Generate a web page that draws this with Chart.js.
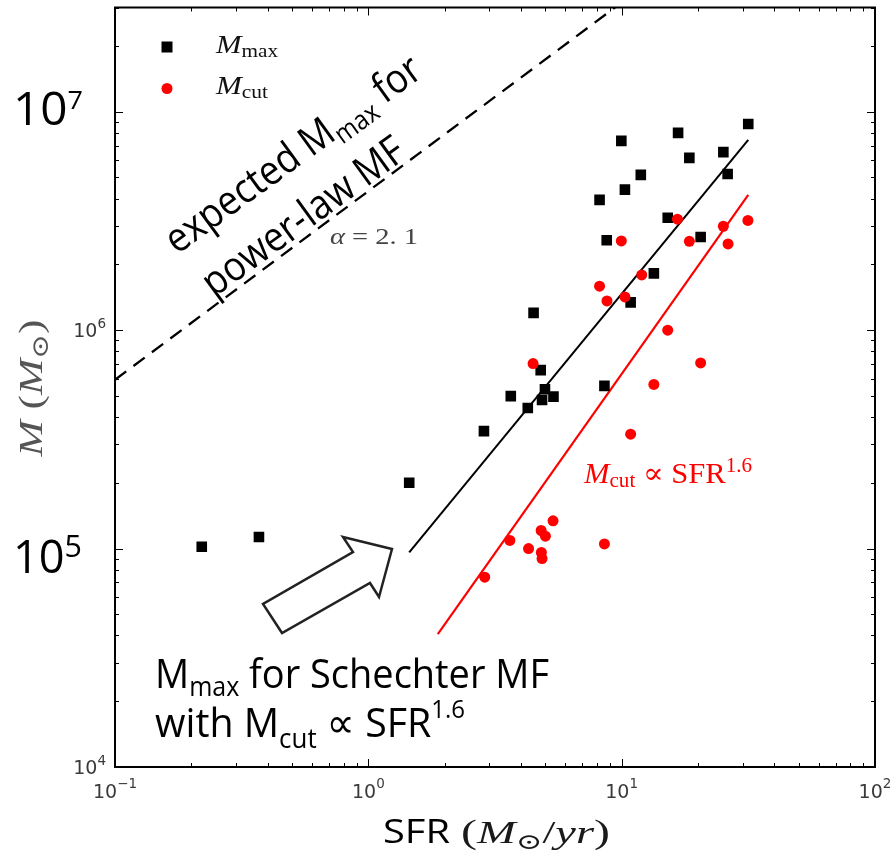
<!DOCTYPE html>
<html><head><meta charset="utf-8">
<script src="https://cdn.jsdelivr.net/npm/chart.js@4/dist/chart.umd.min.js"></script>
<style>html,body{margin:0;padding:0;background:#fff;}#wrap{width:896px;height:853px;}</style>
</head><body><div id="wrap"><canvas id="c" width="896" height="853"></canvas></div>
<script>
// ---- data ----
const maxSFR  = [0.22,0.37,1.45,2.86,3.65,4.26,4.49,4.79,4.98,4.85,5.38,8.55,10.85,31.6,16.7,9.97,18.5,25.2,26.2,11.9,10.3,8.18,15.2,8.73,20.5,13.4];
const maxMass = [1.02e5,1.13e5,2.0e5,3.45e5,4.99e5,4.4e5,1.2e6,6.56e5,5.36e5,4.79e5,4.96e5,5.56e5,1.34e6,8.79e6,8.0e6,7.35e6,6.15e6,6.53e6,5.19e6,5.14e6,4.40e6,3.95e6,3.27e6,2.58e6,2.67e6,1.82e6];
const cutSFR  = [2.88,3.62,4.29,4.47,4.81,4.82,4.85,5.0,5.36,8.18,8.55,8.75,9.97,10.3,10.85,12.0,13.4,15.2,16.6,18.5,20.5,25.2,26.3,31.5];
const cutMass = [7.4e4,1.09e5,1.0e5,7.03e5,1.21e5,9.6e4,9.0e4,1.14e5,1.34e5,1.59e6,1.05e5,1.36e6,2.56e6,1.42e6,3.34e5,1.79e6,5.64e5,1.0e6,3.22e6,2.55e6,7.08e5,2.99e6,2.48e6,3.18e6];
const schechterSFR  = [1.45, 31.6];
const schechterMass = [9.6e4, 7.43e6];
const cutFitSFR  = [1.88, 31.6];
const cutFitMass = [4.06e4, 4.16e6];
const powerLawSFR  = [0.1, 10];
const powerLawMass = [5.93e5, 3.16e7];
const xTickExps = [-1, 0, 1, 2];
const yTickExps = [4, 5, 6, 7];

const pts = (xs, ys) => xs.map((x, i) => ({x, y: ys[i]}));

const SANS = '"Open Sans", "DejaVu Sans", sans-serif';
const SERIF = '"Liberation Serif", "DejaVu Serif", serif';
const TICKF = '"DejaVu Sans", sans-serif';

function runsWidth(ctx, runs){ let w=0; for(const r of runs){ ctx.font=r.f; w+=ctx.measureText(r.t).width; } return w; }
function drawRuns(ctx, runs, x, y, o={}){
  ctx.save();
  ctx.translate(x,y);
  if (o.rot) ctx.rotate(o.rot);
  const w = runsWidth(ctx, runs);
  const sx = o.width ? o.width / w : 1;
  const sy = o.sy || 1;
  ctx.scale(sx, sy);
  let cx = o.align==='center' ? -w/2 : (o.align==='right' ? -w : 0);
  ctx.textBaseline='alphabetic'; ctx.textAlign='left';
  for (const r of runs){
    ctx.font=r.f; ctx.fillStyle=r.c||o.color||'#000';
    ctx.fillText(r.t, cx, r.dy||0);
    cx += ctx.measureText(r.t).width;
  }
  ctx.restore();
}

const deco = {
  id:'deco',
  afterDraw(chart){
    const ctx = chart.ctx, a = chart.chartArea, xs = chart.scales.x, ys = chart.scales.y;
    ctx.save();
    // ticks (inward, all four sides)
    ctx.strokeStyle='#000'; ctx.lineWidth=1;
    const xmin=xs.min, xmax=xs.max, ymin=ys.min, ymax=ys.max;
    for (let d=-1; d<=2; d++) for (let k=1;k<=9;k++){
      const v=k*Math.pow(10,d); if (v<xmin*0.999||v>xmax*1.001) continue;
      const px=Math.round(xs.getPixelForValue(v))+0.5, L=k===1?8:4;
      ctx.beginPath(); ctx.moveTo(px,a.bottom); ctx.lineTo(px,a.bottom-L); ctx.moveTo(px,a.top); ctx.lineTo(px,a.top+L); ctx.stroke();
    }
    for (let d=4; d<=7; d++) for (let k=1;k<=9;k++){
      const v=k*Math.pow(10,d); if (v<ymin*0.999||v>ymax*1.001) continue;
      const py=Math.round(ys.getPixelForValue(v))+0.5, L=k===1?8:4;
      ctx.beginPath(); ctx.moveTo(a.left,py); ctx.lineTo(a.left+L,py); ctx.moveTo(a.right,py); ctx.lineTo(a.right-L,py); ctx.stroke();
    }
    // frame
    ctx.lineWidth=2; ctx.strokeRect(a.left, a.top, a.right-a.left, a.bottom-a.top);

    // x tick labels
    for (const e of xTickExps){
      const px = xs.getPixelForValue(Math.pow(10,e));
      drawRuns(ctx,[{t:'10',f:'19px '+TICKF},{t:(e<0?'\u2212':'')+Math.abs(e),f:'13.5px '+TICKF,dy:-10}], px, 798, {align:'center', color:'#3a3a3a'});
    }
    // y tick labels (small for 10^4, 10^6; large overlay for 10^5, 10^7)
    for (const e of yTickExps){
      const py = ys.getPixelForValue(Math.pow(10,e));
      if (e===5 || e===7){
        drawRuns(ctx,[{t:'10',f:'46px '+SANS},{t:String(e),f:(e===7?'26px ':'31px ')+SANS,dy:(e===7?-16:-16)}], 13, py+(e===7?13:24), {width:(e===7?70:69), color:'#000'});
      } else {
        drawRuns(ctx,[{t:'10',f:'19px '+TICKF},{t:String(e),f:'13.5px '+TICKF,dy:-9}], 106, py+7, {align:'right', color:'#3a3a3a'});
      }
    }
    // axis titles
    drawRuns(ctx,[{t:'SFR',f:'32px '+SANS}], 383, 843, {width:67});
    drawRuns(ctx,[{t:'(',f:'33px '+SERIF},{t:'M',f:'italic 32px '+SERIF},{t:'\u2299',f:'22px '+SERIF,dy:6},{t:'/',f:'32px '+SERIF},{t:'yr',f:'italic 32px '+SERIF},{t:')',f:'33px '+SERIF}], 461, 843, {width:149, color:'#1a1a1a'});
    drawRuns(ctx,[{t:'M',f:'italic 34px '+SERIF},{t:' (',f:'34px '+SERIF},{t:'M',f:'italic 34px '+SERIF},{t:'\u2299',f:'23px '+SERIF,dy:6},{t:')',f:'34px '+SERIF}], 42, 388, {rot:-Math.PI/2, align:'center', width:137, color:'#555'});

    // legend
    ctx.fillStyle='#000'; ctx.fillRect(161.5,41.5,11,11);
    ctx.fillStyle='#ff0000'; ctx.beginPath(); ctx.arc(167,88.5,5.5,0,Math.PI*2); ctx.fill();
    drawRuns(ctx,[{t:'M',f:'italic 26px '+SERIF},{t:'max',f:'18px '+SERIF,dy:4}], 216, 53, {width:62, color:'#111'});
    drawRuns(ctx,[{t:'M',f:'italic 26px '+SERIF},{t:'cut',f:'18px '+SERIF,dy:4}], 216, 94, {width:52, color:'#111'});

    // alpha label
    drawRuns(ctx,[{t:'\u03b1',f:'italic 24px '+SERIF},{t:' = ',f:'24px '+SERIF},{t:'2. 1',f:'24px '+SERIF}], 330, 244, {width:88, color:'#444'});
    // M_cut label
    drawRuns(ctx,[{t:'M',f:'italic 29px '+SERIF},{t:'cut',f:'20px '+SERIF,dy:4},{t:' \u221d ',f:'29px '+SERIF},{t:'SFR',f:'29px '+SERIF},{t:'1.6',f:'20px '+SERIF,dy:-11}], 584, 483, {width:168, color:'#ff0000'});

    // rotated overlay text
    const ang = -36*Math.PI/180;
    drawRuns(ctx,[{t:'expected M',f:'41px '+SANS},{t:'max',f:'27px '+SANS,dy:8},{t:' for',f:'41px '+SANS}], 177, 255, {rot:ang, width:306});
    drawRuns(ctx,[{t:'power-law MF',f:'41px '+SANS}], 214, 298, {rot:ang, width:240});

    // bottom overlay text
    drawRuns(ctx,[{t:'M',f:'41px '+SANS},{t:'max',f:'27px '+SANS,dy:8},{t:' for Schechter MF',f:'41px '+SANS}], 155, 688, {width:394});
    drawRuns(ctx,[{t:'with M',f:'41px '+SANS},{t:'cut',f:'27px '+SANS,dy:11},{t:' \u221d SFR',f:'41px '+SANS},{t:'1.6',f:'25px '+SANS,dy:-19}], 155, 737, {width:310});

    // hollow block arrow
    const arr=[[392,549],[343,537],[353,552],[263,604],[282,633],[370,583],[379,597]];
    ctx.beginPath(); arr.forEach((p,i)=> i?ctx.lineTo(p[0],p[1]):ctx.moveTo(p[0],p[1])); ctx.closePath();
    ctx.fillStyle='#fff'; ctx.fill(); ctx.lineWidth=2.5; ctx.strokeStyle='#222'; ctx.lineJoin='miter'; ctx.stroke();
    ctx.restore();
  }
};

new Chart(document.getElementById('c'), {
  type:'scatter',
  data:{ datasets:[
    {label:'M_cut', data:pts(cutSFR,cutMass), pointStyle:'circle', pointRadius:5.5, backgroundColor:'#ff0000', borderWidth:0, order:0},
    {label:'M_max', data:pts(maxSFR,maxMass), pointStyle:'rect', pointRadius:7.5, backgroundColor:'#000', borderWidth:0, order:1},
    {label:'Mmax Schechter', data:pts(schechterSFR,schechterMass), showLine:true, pointRadius:0, borderColor:'#000', borderWidth:2, clip:0, order:2},
    {label:'Mcut fit', data:pts(cutFitSFR,cutFitMass), showLine:true, pointRadius:0, borderColor:'#ff0000', borderWidth:2.2, clip:0, order:3},
    {label:'power law', data:pts(powerLawSFR,powerLawMass), showLine:true, pointRadius:0, borderColor:'#000', borderWidth:2.3, borderDash:[14,9], clip:0, order:4}
  ]},
  options:{
    responsive:false, animation:false, devicePixelRatio:1,
    layout:{padding:{left:115,right:21,top:7,bottom:86}},
    scales:{
      x:{type:'logarithmic', min:0.1, max:100, display:false},
      y:{type:'logarithmic', min:1e4, max:3e7, display:false}
    },
    plugins:{legend:{display:false}, tooltip:{enabled:false}}
  },
  plugins:[deco]
});
</script></body></html>
